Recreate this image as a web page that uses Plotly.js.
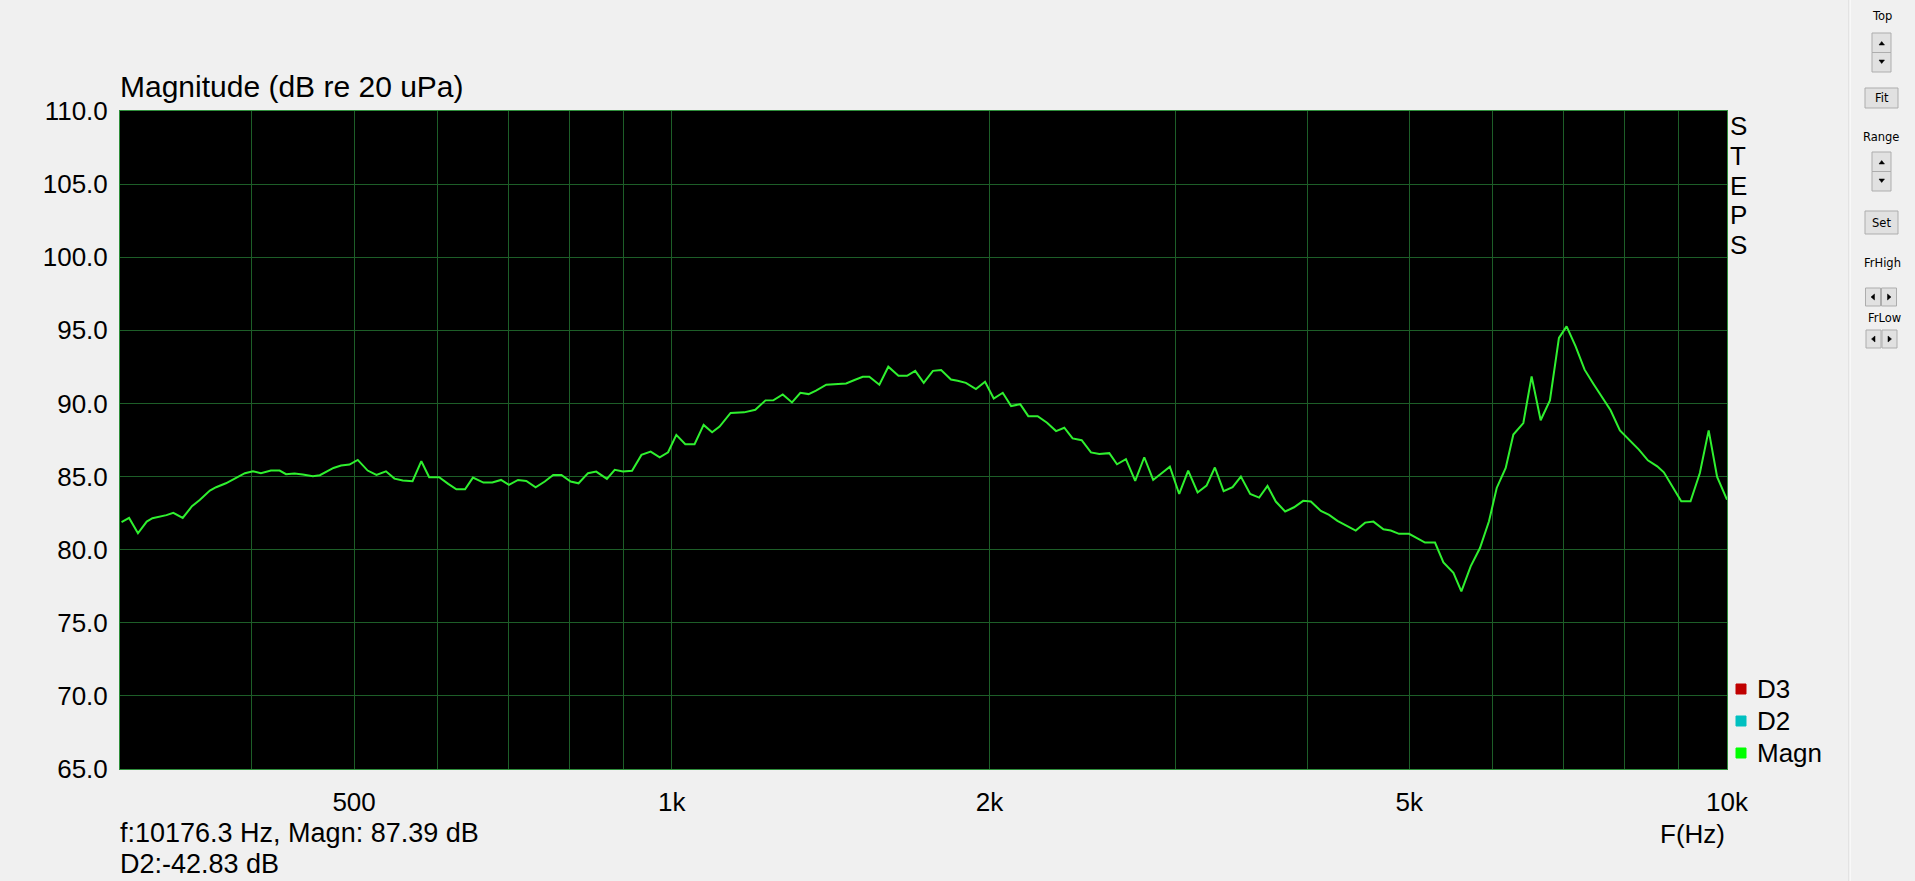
<!DOCTYPE html>
<html><head><meta charset="utf-8">
<script src="https://cdn.plot.ly/plotly-3.0.1.min.js"></script>
<style>html,body{margin:0;padding:0;background:#f0f0f0;overflow:hidden}#chart{width:1915px;height:881px}</style>
</head><body><div id="chart"></div>
<script>
// ---- data ----
const freqHz = [301,306,312,318,322,327,332,337,344,351,357,365,370,378,385,394,401,408,417,425,431,439,447,457,464,478,486,495,504,515,525,536,546,556,568,579,589,602,
614,625,637,648,663,676,689,701,715,728,743,758,772,786,802,816,833,848,868,883,899,917,936,955,974,992,1010,1030,1051,1072,1092,1110,
1137,1171,1200,1227,1248,1274,1300,1324,1348,1370,1401,1431,1463,1490,1517,1539,1573,1604,1640,1671,1701,1733,1768,1800,1839,1866,1900,1942,1981,2019,2059,2097,2139,2177,2222,2268,2313,2355,2398,2446,2496,2542,
2598,2642,2694,2749,2804,2859,2914,2965,3026,3086,3150,3212,3271,3334,3400,3462,3533,3603,3669,3736,3813,3888,3966,4033,4122,4197,4274,4369,4448,4540,4623,4725,4801,4889,4997,5089,5174,5288,
5386,5505,5601,5716,5833,5949,6050,6170,6274,6412,6529,6659,6795,6930,7047,7187,7329,7470,7601,7757,7916,8073,8251,8414,8588,8713,8874,9050,9235,9425,9608,9787,10000];
const magnDb = [81.88,82.17,81.12,81.92,82.15,82.26,82.36,82.52,82.17,82.97,83.40,84.04,84.27,84.54,84.84,85.23,85.36,85.23,85.41,85.41,85.16,85.21,85.14,85.02,85.09,85.59,85.75,85.82,86.14,85.41,85.11,85.36,84.86,84.73,84.68,86.05,84.95,84.95,
84.50,84.13,84.13,84.93,84.59,84.59,84.77,84.43,84.77,84.70,84.27,84.66,85.11,85.11,84.66,84.54,85.23,85.34,84.84,85.46,85.34,85.39,86.48,86.71,86.32,86.66,87.85,87.21,87.21,88.53,88.03,88.42,
89.35,89.39,89.57,90.21,90.22,90.62,90.07,90.73,90.64,90.87,91.28,91.32,91.37,91.60,91.82,91.82,91.28,92.51,91.89,91.89,92.23,91.41,92.23,92.28,91.64,91.55,91.41,90.98,91.48,90.34,90.73,89.82,89.95,89.13,89.13,88.68,88.11,88.34,87.61,87.49,86.65,86.54,
86.60,85.84,86.19,84.70,86.32,84.77,85.27,85.68,83.81,85.41,83.91,84.38,85.62,84.00,84.27,85.00,83.81,83.56,84.36,83.29,82.61,82.90,83.34,83.29,82.65,82.38,81.97,81.58,81.31,81.85,81.92,81.40,81.31,81.08,81.08,80.78,80.49,80.49,
79.13,78.41,77.15,78.86,80.11,81.94,84.22,85.59,87.87,88.66,91.85,88.85,90.21,94.48,95.27,93.91,92.31,91.35,90.49,89.53,88.16,87.52,86.84,86.11,85.70,85.29,84.33,83.31,83.31,85.24,88.16,84.97,83.42];
const yTickVals = [65,70,75,80,85,90,95,100,105,110];
const xGridVals = [300,400,500,600,700,800,900,1000,2000,3000,4000,5000,6000,7000,8000,9000,10000];
const xLabelMap = {500:'500',1000:'1k',2000:'2k',5000:'5k',10000:'10k'};
const legendNames = ['D3','D2','Magn'];
const legendColors = ['#c00000','#00c0c0','#00ff00'];
const stepsLetters = ['S','T','E','P','S'];
const cursorText = ['f:10176.3 Hz, Magn: 87.39 dB','D2:-42.83 dB'];
const panelLabels = ['Top','Fit','Range','Set','FrHigh','FrLow'];

// ---- layout helpers (pixel -> paper) ----
const L=120,R=1727,T=111,B=769;
const px = x => (x-L)/(R-L);
const py = y => (B-y)/(B-T);
const FONT = 'Liberation Sans, Arial, sans-serif';
const SMALL = 'DejaVu Sans, Tahoma, sans-serif';

const shapes = [];
const annotations = [];
function rect(x0,y0,x1,y1,fill,line){shapes.push({type:'rect',xref:'paper',yref:'paper',x0:px(x0),x1:px(x1),y0:py(y0),y1:py(y1),fillcolor:fill,line:{color:line,width:1},layer:'above'});}
function tri(pts,color){const d='M'+pts.map(p=>px(p[0])+','+py(p[1])).join(' L')+' Z';shapes.push({type:'path',xref:'paper',yref:'paper',path:d,fillcolor:color,line:{color:color,width:0.5},layer:'above'});}
function text(t,x,y,size,fam,xa){annotations.push({text:t,xref:'paper',yref:'paper',x:px(x),y:py(y),xanchor:xa||'center',yanchor:'middle',showarrow:false,font:{family:fam||FONT,size:size,color:'#000'}});}

// STEPS
stepsLetters.forEach((s,i)=>text(s,1738,126+i*29.8,26));
// legend
legendNames.forEach((n,i)=>{const yc=689+i*32;rect(1736,yc-5,1746,yc+5,legendColors[i],legendColors[i]);text(n,1755,yc,26,FONT,'left');});
// axis name & cursor info
text('F(Hz)',1727,834,26,FONT,'right');
text(cursorText[0],118,833,27,FONT,'left');
text(cursorText[1],118,864,27,FONT,'left');
// side panel
shapes.push({type:'line',xref:'paper',yref:'paper',x0:px(1849),x1:px(1849),y0:py(0),y1:py(881),line:{color:'#d6d6d6',width:1}});
shapes.push({type:'line',xref:'paper',yref:'paper',x0:px(1850),x1:px(1850),y0:py(0),y1:py(881),line:{color:'#ffffff',width:1}});
const BF='#e1e1e1',BL='#adadad';
function spinner(yTop){rect(1872,yTop,1891,yTop+19.5,BF,BL);rect(1872,yTop+19.5,1891,yTop+39,BF,BL);
 tri([[1879,yTop+12],[1884.5,yTop+12],[1881.7,yTop+8.5]],'#000');tri([[1879,yTop+27],[1884.5,yTop+27],[1881.7,yTop+30.5]],'#000');}
function lr(yTop,xs){rect(xs,yTop,xs+15,yTop+18,BF,BL);rect(xs+16,yTop,xs+31,yTop+18,BF,BL);
 tri([[xs+9,yTop+6],[xs+9,yTop+12],[xs+5.5,yTop+9]],'#000');tri([[xs+22,yTop+6],[xs+22,yTop+12],[xs+25.5,yTop+9]],'#000');}
text(panelLabels[0],1882,16,11.5,SMALL);
spinner(33);
rect(1865,88,1898,108,BF,BL);text(panelLabels[1],1881.5,98,11.5,SMALL);
text(panelLabels[2],1881,137,11.5,SMALL);
spinner(152);
rect(1865,211,1898,234,BF,BL);text(panelLabels[3],1881.5,222.5,11.5,SMALL);
text(panelLabels[4],1882,263,11.5,SMALL);
lr(288,1865.5);
text(panelLabels[5],1885,318,11.5,SMALL);
lr(330,1866);

const trace = {x:freqHz,y:magnDb,type:'scatter',mode:'lines',line:{color:'#2ff02f',width:2},hoverinfo:'skip'};
const GRID='#1d5e28',BORDER='#2f8f3c';
const layout = {
  width:1915,height:881,
  margin:{l:L,r:1915-R,t:T,b:881-B,pad:0},
  paper_bgcolor:'#f0f0f0',plot_bgcolor:'#000000',
  showlegend:false,
  title:{text:'Magnitude (dB re 20 uPa)',font:{family:FONT,size:30,color:'#000'},xref:'paper',x:0,xanchor:'left',yref:'container',y:1-86/881,yanchor:'middle'},
  xaxis:{type:'log',range:[Math.log10(300),4],tickmode:'array',tickvals:xGridVals,ticktext:xGridVals.map(v=>xLabelMap[v]||''),
    showgrid:true,gridcolor:GRID,gridwidth:1,zeroline:false,showline:true,mirror:true,linecolor:BORDER,linewidth:1,
    ticks:'',ticklabelstandoff:10,tickfont:{family:FONT,size:26,color:'#000'},fixedrange:true},
  yaxis:{range:[65,110],tickmode:'array',tickvals:yTickVals,ticktext:yTickVals.map(v=>v.toFixed(1)),
    showgrid:true,gridcolor:GRID,gridwidth:1,zeroline:false,showline:true,mirror:true,linecolor:BORDER,linewidth:1,
    ticks:'',ticklabelstandoff:6,tickfont:{family:FONT,size:26,color:'#000'},fixedrange:true},
  shapes:shapes,annotations:annotations
};
Plotly.newPlot('chart',[trace],layout,{staticPlot:true,displayModeBar:false});
</script></body></html>
